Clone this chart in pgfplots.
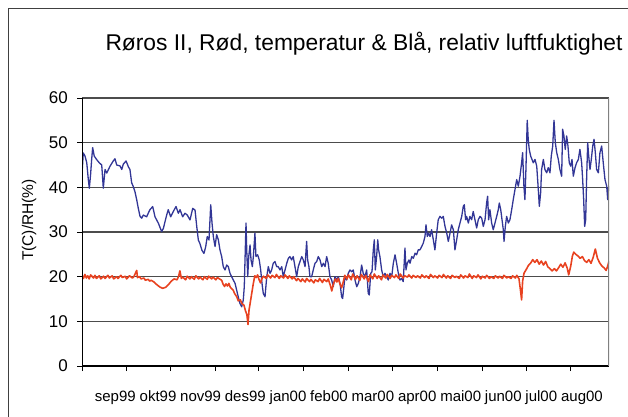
\documentclass[border=0pt]{standalone}
\usepackage{pgfplots}
\pgfplotsset{compat=1.18}
\usepackage{fontspec}
\setmainfont{Liberation Sans}
\definecolor{rhblue}{RGB}{50,54,150}
\definecolor{tred}{RGB}{232,66,32}
\begin{document}
\begin{tikzpicture}
\path[use as bounding box] (0pt,0pt) rectangle (628pt,416pt);
\draw[line width=1.5pt, black!75] (8.3pt,-10pt) -- (8.3pt,407.7pt) -- (640pt,407.7pt);
\node[anchor=base, font=\fontsize{22.8}{26}\selectfont, inner sep=0pt] at (364pt,366pt) {Røros II, Rød, temperatur \& Blå, relativ luftfuktighet};
\node[rotate=90, font=\fontsize{15.5}{18}\selectfont, inner sep=0pt] at (29pt,196pt) {T(C)/RH(\%)};
\begin{axis}[
  at={(82pt,50pt)}, anchor=south west, scale only axis,
  width=527pt, height=268pt,
  xmin=0, xmax=366, ymin=0, ymax=60,
  axis line style={draw=none},
  ytick={0,10,...,60},
  xtick={0,31.0,61.8,92.4,122.9,153.7,185.0,215.8,246.8,278.0,308.9,339.6},
  xticklabels={},
  extra x ticks={23.1,52.8,82.4,113.4,143.1,171.5,202.0,232.8,263.0,292.6,319.0,347.2},
  extra x tick labels={sep99,okt99,nov99,des99,jan00,feb00,mar00,apr00,mai00,jun00,jul00,aug00},
  extra x tick style={major tick length=0pt, grid=none},
  xticklabel style={font=\fontsize{15}{18}\selectfont, text height=11pt, text depth=3pt, inner sep=0pt, yshift=-24pt},
  yticklabel style={font=\fontsize{17}{20}\selectfont, inner sep=0pt, xshift=-9pt},
  /pgf/number format/assume math mode=true,
  tick align=outside, xtick pos=bottom, ytick pos=left,
  major tick length=5pt,
  tick style={black, line width=1pt},
  ymajorgrids, grid style={black!70, line width=1.1pt},
]
\addplot[rhblue, line width=1.3pt, line join=round] coordinates {
(0,43) (0.9,47.7) (2.1,47) (3.3,45.5) (4.4,41.7) (5.1,39.8) (6.0,43) (6.7,46.2) (7.4,48.9) (8.5,47)
(10.2,46.2) (12.0,45.5) (13.7,45) (14.8,39.8) (16.0,44) (17.2,43.2) (19.4,44.7) (21.7,45.9) (22.9,46.4) (24.1,45)
(26.4,44.8) (27.6,44) (28.7,45.2) (30.6,45.9) (32.2,44.6) (33.3,44) (34.5,41) (35.6,40.2) (36.8,39) (38.0,37.2)
(39.1,35.3) (40.3,33.5) (41.5,33.1) (42.6,33.8) (44.9,33.4) (46.0,34.2) (47.2,35) (49.1,35.7) (50.7,33.4) (53.0,32)
(55.3,30.1) (56.5,30.8) (58.8,33.8) (59.9,35) (61.6,33.4) (63.4,34.6) (65.3,35.7) (66.9,34.2) (68.1,35) (69.9,33.4)
(71.5,34.2) (73.1,33.8) (75.0,32.7) (76.9,35.3) (78.5,34.9) (79.7,31.2) (80.8,28.2) (81.9,27.4) (83.3,25.9) (84.7,25.2)
(85.9,26.7) (87.0,29) (88.2,28.2) (89.4,36.1) (90.3,32) (91.2,29) (92.4,26.75) (93.5,29.4) (94.7,28.25) (95.8,26)
(97.0,24.5) (98.1,22.25) (99.3,21.5) (100.5,22.6) (101.6,22.25) (102.8,20.75) (103.9,20) (105.1,19.25) (106.3,18.5) (107.4,17)
(108.5,15.5) (109.7,14) (110.9,13.25) (112.0,14.75) (112.7,17.75) (113.4,26) (113.9,32) (114.4,26) (115.1,20) (115.8,24.5)
(116.7,27.1) (117.4,23.75) (118.3,22.25) (119.0,24.5) (120.1,29.75) (120.8,24.5) (122.0,24.9) (123.1,23.75) (124.1,21.5) (125.0,18.5)
(125.9,16.25) (127.1,15.5) (128.3,20) (129.4,22.25) (130.6,20.75) (131.7,21.5) (132.8,23) (134.0,23.4) (135.2,22.25) (136.3,22.25)
(137.5,21.5) (138.7,22.25) (139.8,20) (141.0,21.5) (142.2,23) (143.3,24.1) (144.4,24.5) (145.6,23.75) (146.7,24.5) (147.9,22.25)
(149.1,20) (150.2,22.25) (151.4,23.4) (152.6,24.5) (153.7,23.75) (154.9,22.25) (156.0,27.9) (156.7,23.75) (157.6,22.25) (158.3,20)
(159.5,20) (160.6,21.5) (161.8,23) (163.0,23.4) (164.1,24.5) (165.3,23.75) (166.5,22.25) (167.6,23) (168.8,22.25) (169.9,24.5)
(171.0,23) (172.2,20) (173.4,19.25) (174.5,17.75) (175.7,20) (176.9,19.25) (178.0,20) (179.2,18.5) (180.3,15.5) (181.0,15.1)
(181.9,17.75) (182.6,20) (183.8,19.25) (184.9,20.75) (186.1,21.5) (187.3,21.1) (188.4,21.5) (189.6,19.25) (190.8,17.75) (191.9,18.5)
(193.1,20) (194.2,22.6) (195.3,20.75) (196.5,20) (197.7,21.5) (198.8,16.25) (199.5,15.9) (200.5,20.75) (201.4,21.1) (202.3,26)
(203.0,28.25) (203.7,21.5) (204.6,24.5) (205.4,28.25) (206.0,26) (206.9,24.5) (208.1,21.5) (209.2,20) (210.4,20.75) (211.6,20)
(212.7,19.25) (213.9,20.75) (215.1,20) (216.2,23) (217.4,24.9) (218.5,23) (219.7,20.75) (220.8,19.25) (222.0,19.6) (223.1,18.9)
(224.3,26.4) (225.0,21.5) (225.9,23) (227.1,23.75) (227.8,23) (229.0,24.5) (230.1,24.1) (231.3,25.25) (232.4,24.9) (233.5,26)
(234.7,26) (235.9,26.75) (237.0,27.5) (238.2,29) (238.9,31.6) (239.8,29) (240.8,29.75) (241.7,29) (242.8,30.5) (244.0,28.25)
(245.1,26) (246.3,29.75) (247.4,32.75) (248.6,33.5) (249.8,33.1) (250.9,33.5) (252.1,31.25) (253.3,29.75) (254.4,27.9) (255.6,29.75)
(256.7,31.6) (257.9,30.5) (259.0,26) (260.2,28.25) (261.3,30.5) (262.5,32) (263.7,33.5) (264.8,35.75) (265.5,36.1) (266.4,32.75)
(267.1,33.5) (268.3,32) (269.4,33.5) (270.6,32.75) (271.7,34.6) (272.9,32.75) (274.1,30.9) (275.2,32.75) (276.4,33.5) (277.6,33.1)
(278.7,31.25) (279.9,32.75) (281.0,36.5) (281.7,38) (282.4,32.75) (283.3,35) (284.5,32) (285.6,30.5) (286.8,32) (288.0,33.5)
(289.1,35) (289.8,36.5) (290.8,35) (291.7,32.75) (292.6,30.5) (293.1,27.9) (294.0,31.25) (294.9,33.5) (296.1,32) (297.2,32.75)
(298.4,35) (299.5,37.25) (300.7,39.5) (301.9,41.75) (303.0,40.25) (304.2,42.5) (305.3,45.5) (306.0,47.75) (306.9,40.25) (307.6,37.25)
(308.3,44) (309.2,55) (309.9,50.75) (310.6,48.5) (311.6,47) (312.5,46.25) (313.4,45.5) (314.6,46.25) (315.8,44.75) (316.9,39.5)
(317.6,35.75) (318.5,38.75) (319.2,44) (320.4,46.25) (321.5,44) (322.7,43.25) (323.8,44.4) (325.0,43.25) (325.9,47) (326.9,49.25)
(327.8,55) (328.7,50) (329.7,47.75) (330.8,46.25) (331.9,44) (333.1,42.5) (333.8,53) (334.7,51.5) (335.6,48.5) (336.6,51.5)
(337.5,49.25) (338.4,45.5) (339.4,44.75) (340.3,46.25) (341.2,42.5) (342.4,44.4) (343.5,45.5) (344.7,46.25) (345.8,48.5) (347.0,45.5)
(347.7,41.75) (348.4,37.25) (349.1,31.25) (349.8,32.75) (350.5,42.5) (351.2,50) (351.9,47) (352.8,44) (353.7,46.25) (354.7,49.25)
(355.6,50.75) (356.5,47.75) (357.4,44) (358.6,43.25) (359.7,47.75) (360.9,49.25) (362.0,45.5) (363.2,41.75) (364.4,40.25) (365.1,37.25)
(365.8,40.25)
};
\addplot[tred, line width=1.6pt, line join=round] coordinates {
(0,20.3) (1,19.6) (2,20.5) (3,19.7) (4,20.2) (5,19.5) (6,20.4) (8,19.7) (9,20.3) (10,19.6)
(12,20.2) (13,19.5) (15,20.1) (16,19.6) (18,20.3) (19,19.7) (21,20.2) (22,19.5) (24,20.0) (25,19.6)
(27,20.3) (28,19.8) (30,20.1) (31,19.5) (33,20.2) (35,19.7) (36,20.0) (38,21.4) (38.5,19.8) (40,20.0)
(41,19.5) (43,19.7) (44,19.2) (46,19.4) (47,19.0) (48,19.2) (50,18.8) (52,18.2) (54,17.7) (56,17.4)
(58,17.6) (60,18.2) (62,19.0) (64,19.5) (66,19.3) (67,20.0) (68,21.3) (69,19.6) (70,19.9) (72,19.3)
(73,20.1) (75,19.5) (76,20.0) (78,19.4) (79,20.2) (81,19.5) (82,19.9) (84,19.3) (85,20.0) (87,19.4)
(88,20.1) (90,19.5) (91,19.9) (93,19.3) (94,19.8) (96,19.4) (97,19.2) (98,18.3) (99,17.8) (100,18.4)
(101,17.9) (102,18.5) (103,17.6) (105,17.0) (106,16.2) (107.5,15.5) (108.5,14.6) (110,14.8) (111,14.0) (112.5,13.6)
(113.5,12.4) (114.5,11.5) (115.3,9.3) (116,12.5) (117,14.5) (118,16.5) (119,18.5) (120,20.2) (121,19.8) (122,20.4)
(123,19.3) (124,18.6) (125,19.6) (126,20.1) (128,19.6) (129,20.4) (131,19.7) (132,20.3) (134,19.8) (135,20.5)
(137,19.6) (138,20.2) (140,19.7) (141,20.4) (143,19.6) (144,20.2) (146,19.5) (147,20.0) (149,19.1) (150,19.6)
(152,18.9) (153,19.5) (155,18.8) (156,19.6) (158,18.9) (159,19.4) (161,18.6) (162,19.3) (164,18.9) (165,19.6)
(167,18.7) (168,19.4) (170,18.9) (171,19.5) (172.5,18.0) (173.5,16.8) (174.5,18.3) (176,19.5) (177,18.8) (178,19.6)
(179,18.5) (180.3,17.5) (181.5,18.9) (182.5,20.3) (184,19.5) (185,20.4) (187,19.3) (188,20.6) (190,19.4) (191,20.2)
(193,19.2) (194,20.5) (196,19.5) (197,20.3) (199,18.9) (200,20.4) (202,19.5) (203,20.6) (205,19.6) (206,20.2)
(208,19.3) (209,20.4) (211,19.7) (212,20.5) (214,19.6) (215,20.3) (217,19.8) (218,20.4) (220,19.6) (221,20.6)
(223,19.7) (224,20.2) (226,19.9) (227,20.4) (229,19.7) (230,20.3) (232,19.8) (233,20.2) (235,19.7) (236,20.4)
(238,19.8) (239,20.2) (241,19.6) (242,20.5) (244,19.8) (245,20.2) (247,19.7) (248,20.3) (250,19.8) (251,20.5)
(253,19.7) (254,20.2) (256,19.6) (257,20.3) (259,19.8) (260,20.1) (262,19.6) (263,20.4) (265,19.7) (266,20.2)
(268,19.8) (269,20.6) (271,19.6) (272,20.2) (274,19.8) (275,20.4) (277,19.5) (278,20.1) (280,19.7) (281,20.3)
(283,19.6) (284,20.0) (286,19.6) (287,20.2) (289,19.7) (290,20.1) (292,19.6) (293,20.3) (295,19.7) (296,20.0)
(298,19.6) (299,20.2) (301,19.7) (302,20.3) (303.5,19.5) (304.5,17.0) (305.3,14.8) (306,19.0) (307,20.8) (308.5,21.6)
(310,22.5) (311.5,23.0) (313,23.8) (314.5,23.2) (316,23.8) (317.5,22.8) (319,23.5) (320.5,22.6) (322,23.4) (323.5,22.2)
(325,21.8) (326.5,21.3) (328,21.8) (329.5,21.3) (331,22.0) (332.5,22.8) (334,22.1) (335.5,23.1) (337,21.9) (338,20.4)
(339.5,22.5) (340.5,24.5) (341.5,25.5) (343,25.0) (344.5,24.6) (346,24.1) (347.5,24.5) (349,23.6) (350.5,23.2) (352,23.8)
(353.5,23.0) (355,24.3) (356.5,26.2) (358,24.1) (359.5,23.1) (361,22.4) (362.5,22.0) (364,21.4) (365,22.3) (366,23.5)
};
\draw[black, line width=1.3pt] (rel axis cs:0,0) -- (rel axis cs:0,1);
\draw[black, line width=1.3pt] (rel axis cs:0,0) -- (rel axis cs:1,0);
\draw[black!50, line width=2pt] (rel axis cs:1,0) -- (rel axis cs:1,1);
\end{axis}
\end{tikzpicture}
\end{document}
